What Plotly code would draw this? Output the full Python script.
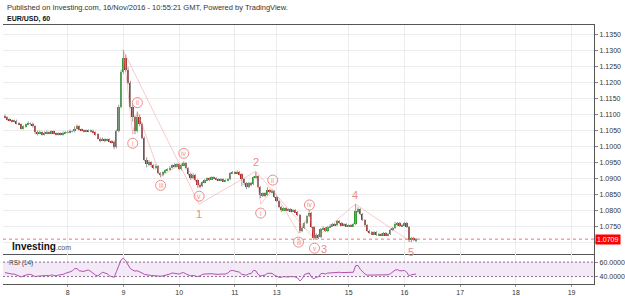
import plotly.graph_objects as go

# ---------------- data ----------------
day_ticks = [0, 24, 48, 72, 90, 121, 145, 169, 193, 217]
day_labels = ["8", "9", "10", "11", "13", "15", "16", "17", "18", "19"]

first_index = -27
first_open = 1.1097

close = [
    1.1091, 1.1084, 1.1081, 1.1078, 1.1081, 1.1072, 1.1069, 1.1056, 1.1063, 1.1069,
    1.1072, 1.1072, 1.1063, 1.1044, 1.1041, 1.1044, 1.1038, 1.1041, 1.1044, 1.1041,
    1.1047, 1.1041, 1.1038, 1.1041, 1.1038, 1.1041, 1.1044, 1.1044, 1.1047, 1.1047,
    1.1056, 1.1063, 1.1053, 1.1050, 1.1047, 1.1050, 1.1047, 1.1050, 1.1044, 1.1038,
    1.1025, 1.1019, 1.1022, 1.1019, 1.1022, 1.1016, 1.1013, 1.0997, 1.1047, 1.1125,
    1.1234, 1.1278, 1.1241, 1.1200, 1.1125, 1.1091, 1.1047, 1.1094, 1.1069, 1.1028,
    1.0959, 1.0944, 1.0950, 1.0941, 1.0934, 1.0938, 1.0916, 1.0909, 1.0919, 1.0925,
    1.0928, 1.0934, 1.0941, 1.0938, 1.0944, 1.0928, 1.0941, 1.0947, 1.0931, 1.0913,
    1.0900, 1.0909, 1.0894, 1.0878, 1.0875, 1.0888, 1.0894, 1.0900, 1.0897, 1.0903,
    1.0900, 1.0897, 1.0894, 1.0897, 1.0891, 1.0894, 1.0897, 1.0916, 1.0919, 1.0916,
    1.0919, 1.0913, 1.0897, 1.0884, 1.0872, 1.0884, 1.0881, 1.0903, 1.0906, 1.0872,
    1.0847, 1.0853, 1.0847, 1.0863, 1.0856, 1.0859, 1.0841, 1.0828, 1.0809, 1.0800,
    1.0806, 1.0800, 1.0803, 1.0797, 1.0800, 1.0794, 1.0784, 1.0734, 1.0744, 1.0759,
    1.0781, 1.0791, 1.0747, 1.0713, 1.0722, 1.0716, 1.0741, 1.0744, 1.0734, 1.0747,
    1.0750, 1.0756, 1.0753, 1.0766, 1.0759, 1.0753, 1.0756, 1.0750, 1.0753, 1.0750,
    1.0756, 1.0797, 1.0803, 1.0788, 1.0769, 1.0753, 1.0734, 1.0731, 1.0725, 1.0731,
    1.0722, 1.0725, 1.0722, 1.0728, 1.0722, 1.0725, 1.0738, 1.0744, 1.0756, 1.0759,
    1.0750, 1.0753, 1.0759, 1.0747, 1.0706, 1.0713, 1.0706, 1.0709,
]

high = [
    1.1100, 1.1094, 1.1088, 1.1084, 1.1084, 1.1084, 1.1075, 1.1072, 1.1066, 1.1072,
    1.1078, 1.1075, 1.1075, 1.1066, 1.1050, 1.1050, 1.1047, 1.1047, 1.1050, 1.1047,
    1.1050, 1.1050, 1.1044, 1.1044, 1.1044, 1.1047, 1.1047, 1.1050, 1.1053, 1.1050,
    1.1063, 1.1069, 1.1066, 1.1056, 1.1053, 1.1053, 1.1053, 1.1053, 1.1053, 1.1047,
    1.1041, 1.1028, 1.1028, 1.1025, 1.1025, 1.1025, 1.1019, 1.1019, 1.1053, 1.1131,
    1.1241, 1.1303, 1.1288, 1.1250, 1.1206, 1.1131, 1.1097, 1.1109, 1.1100, 1.1075,
    1.1031, 1.0966, 1.0956, 1.0953, 1.0944, 1.0944, 1.0941, 1.0919, 1.0922, 1.0928,
    1.0931, 1.0938, 1.0944, 1.0947, 1.0947, 1.0947, 1.0944, 1.0953, 1.0950, 1.0934,
    1.0916, 1.0916, 1.0913, 1.0897, 1.0884, 1.0891, 1.0897, 1.0903, 1.0903, 1.0906,
    1.0906, 1.0903, 1.0900, 1.0900, 1.0900, 1.0897, 1.0900, 1.0919, 1.0922, 1.0922,
    1.0925, 1.0922, 1.0916, 1.0900, 1.0888, 1.0888, 1.0888, 1.0906, 1.0919, 1.0909,
    1.0875, 1.0856, 1.0856, 1.0872, 1.0866, 1.0863, 1.0863, 1.0844, 1.0831, 1.0813,
    1.0809, 1.0809, 1.0806, 1.0806, 1.0803, 1.0803, 1.0797, 1.0788, 1.0750, 1.0763,
    1.0784, 1.0800, 1.0794, 1.0750, 1.0728, 1.0725, 1.0744, 1.0750, 1.0747, 1.0750,
    1.0756, 1.0759, 1.0759, 1.0769, 1.0769, 1.0763, 1.0759, 1.0759, 1.0756, 1.0756,
    1.0759, 1.0819, 1.0809, 1.0806, 1.0791, 1.0772, 1.0756, 1.0738, 1.0734, 1.0734,
    1.0734, 1.0728, 1.0728, 1.0731, 1.0731, 1.0728, 1.0741, 1.0747, 1.0763, 1.0763,
    1.0763, 1.0756, 1.0763, 1.0763, 1.0750, 1.0716, 1.0716, 1.0713,
]

low = [
    1.1088, 1.1081, 1.1078, 1.1075, 1.1075, 1.1069, 1.1066, 1.1053, 1.1053, 1.1059,
    1.1066, 1.1066, 1.1059, 1.1038, 1.1034, 1.1038, 1.1034, 1.1034, 1.1038, 1.1038,
    1.1038, 1.1038, 1.1034, 1.1034, 1.1034, 1.1034, 1.1038, 1.1041, 1.1041, 1.1044,
    1.1044, 1.1053, 1.1050, 1.1047, 1.1044, 1.1044, 1.1044, 1.1044, 1.1041, 1.1034,
    1.1022, 1.1013, 1.1016, 1.1013, 1.1016, 1.1013, 1.1009, 1.0991, 1.0994, 1.1044,
    1.1119, 1.1228, 1.1234, 1.1194, 1.1119, 1.1078, 1.1038, 1.1044, 1.1063, 1.1022,
    1.0953, 1.0934, 1.0938, 1.0934, 1.0928, 1.0928, 1.0913, 1.0903, 1.0906, 1.0916,
    1.0922, 1.0925, 1.0931, 1.0934, 1.0934, 1.0925, 1.0925, 1.0938, 1.0928, 1.0909,
    1.0894, 1.0897, 1.0891, 1.0869, 1.0869, 1.0872, 1.0884, 1.0891, 1.0891, 1.0894,
    1.0897, 1.0894, 1.0891, 1.0891, 1.0888, 1.0888, 1.0891, 1.0894, 1.0913, 1.0913,
    1.0913, 1.0909, 1.0875, 1.0878, 1.0866, 1.0869, 1.0875, 1.0878, 1.0900, 1.0869,
    1.0838, 1.0841, 1.0841, 1.0844, 1.0853, 1.0853, 1.0838, 1.0825, 1.0806, 1.0794,
    1.0797, 1.0797, 1.0797, 1.0794, 1.0794, 1.0791, 1.0781, 1.0728, 1.0731, 1.0741,
    1.0756, 1.0778, 1.0744, 1.0706, 1.0709, 1.0709, 1.0713, 1.0738, 1.0731, 1.0731,
    1.0744, 1.0747, 1.0750, 1.0750, 1.0756, 1.0750, 1.0750, 1.0747, 1.0747, 1.0747,
    1.0747, 1.0753, 1.0791, 1.0784, 1.0766, 1.0747, 1.0731, 1.0725, 1.0722, 1.0722,
    1.0719, 1.0719, 1.0719, 1.0719, 1.0719, 1.0719, 1.0722, 1.0734, 1.0741, 1.0750,
    1.0747, 1.0747, 1.0750, 1.0744, 1.0700, 1.0700, 1.0703, 1.0700,
]

rsi = [
    45.5, 44.5, 44.0, 43.5, 43.5, 42.0, 41.0, 39.5, 41.0, 42.5,
    43.0, 43.0, 41.5, 40.0, 40.5, 41.0, 40.5, 41.0, 41.5, 41.0,
    42.5, 41.5, 41.0, 42.0, 42.0, 43.0, 44.5, 45.0, 46.5, 48.0,
    51.0, 51.0, 48.0, 47.5, 47.0, 48.5, 49.0, 47.0, 44.0, 42.0,
    41.0, 43.0, 46.0, 45.0, 44.0, 41.0, 40.0, 39.0, 47.0, 56.0,
    63.0, 65.5, 62.0, 56.0, 51.0, 49.0, 47.5, 48.0, 47.0, 45.0,
    43.0, 42.0, 42.0, 41.5, 41.0, 41.0, 40.5, 40.5, 41.0, 41.5,
    42.5, 43.5, 45.0, 44.5, 45.0, 43.5, 45.0, 45.5, 43.5, 42.0,
    41.0, 41.5, 40.5, 40.0, 41.0, 43.0, 43.5, 44.0, 43.5, 44.0,
    43.5, 43.0, 43.0, 43.5, 43.0, 43.5, 45.0, 48.0, 48.5, 48.0,
    47.5, 46.0, 43.0, 42.0, 42.0, 44.0, 44.0, 48.5, 48.0, 43.0,
    41.0, 41.5, 42.0, 44.5, 44.0, 44.5, 42.0, 40.5, 39.0, 39.0,
    40.0, 39.5, 40.0, 39.5, 40.0, 39.5, 38.0, 34.0, 37.0, 43.0,
    44.0, 45.0, 39.0, 37.0, 39.0, 39.5, 44.0, 44.5, 43.5, 45.0,
    45.0, 45.5, 45.0, 46.5, 46.0, 45.5, 45.5, 45.0, 45.5, 45.0,
    46.0, 55.0, 55.5, 50.0, 46.0, 43.5, 42.0, 42.0, 41.5, 42.0,
    41.5, 42.0, 42.0, 42.5, 42.0, 42.5, 44.0, 46.0, 49.0, 49.5,
    48.0, 48.0, 48.5, 46.0, 41.0, 42.5, 43.0, 43.5,
]

last_price = 1.0709
rsi_bands = [40, 60]
price_ticks = [1.0700, 1.0750, 1.0800, 1.0850, 1.0900, 1.0950, 1.1000, 1.1050,
               1.1100, 1.1150, 1.1200, 1.1250, 1.1300, 1.1350]

# Elliott wave drawing points (bar index, price)
wave_main_x = [24, 56.6, 81, 106.3, 123.9, 147.9]
wave_main_y = [1.1300, 1.0819, 1.0922, 1.0709, 1.0819, 1.0700]
wave_main_labels = ["", "1", "2", "3", "4", "5"]

sub1_x = [24, 28, 30, 40, 50, 56.6]
sub1_y = [1.1300, 1.1038, 1.1109, 1.0906, 1.0950, 1.0872]
sub3_x = [81, 83.1, 88.3, 99.4, 104.1, 106.3]
sub3_y = [1.0922, 1.0819, 1.0866, 1.0728, 1.0788, 1.0709]
sub_labels = ["", "i", "ii", "iii", "iv", "v"]

# ---------------- build ----------------
n = len(close)
idx = [first_index + k for k in range(n)]
opens = [first_open] + close[:-1]

UP = "#2b9a2b"
DN = "#b02828"
WICK = "#9a9a9a"
WAVE = "#ef8a8a"
WAVE_LINE = "rgba(239,138,138,0.45)"
FONT = "Liberation Sans, Arial, sans-serif"

fig = go.Figure()

wx, wy = [], []
for i, h, l in zip(idx, high, low):
    wx += [i, i, None]
    wy += [l, h, None]
fig.add_trace(go.Scatter(x=wx, y=wy, mode="lines", line=dict(color=WICK, width=1),
                         hoverinfo="skip", showlegend=False, xaxis="x", yaxis="y"))

base = [min(o, c) for o, c in zip(opens, close)]
hgt = [max(abs(c - o), 0.00008) for o, c in zip(opens, close)]
cols = [UP if c > o else (DN if c < o else WICK) for o, c in zip(opens, close)]
fig.add_trace(go.Bar(x=idx, y=hgt, base=base, marker=dict(color=cols, line=dict(width=0)),
                     width=0.75, showlegend=False, xaxis="x", yaxis="y"))

# wave lines
for xs, ys in [(wave_main_x, wave_main_y), (sub1_x, sub1_y), (sub3_x, sub3_y)]:
    fig.add_trace(go.Scatter(x=xs, y=ys, mode="lines", line=dict(color=WAVE_LINE, width=1),
                             hoverinfo="skip", showlegend=False, xaxis="x", yaxis="y"))

# RSI
fig.add_trace(go.Scatter(x=idx, y=rsi, mode="lines", line=dict(color="#b04fb0", width=1),
                         showlegend=False, xaxis="x2", yaxis="y2"))

L, R = 3 / 625, 597 / 625
main_dom = [1 - 255 / 296, 1 - 25 / 296]
rsi_dom = [1 - 285 / 296, 1 - 255 / 296]
xr = [-27.86, 226.7]

axis_font = dict(family=FONT, size=7, color="#333333")
fig.update_layout(
    width=625, height=296,
    margin=dict(l=0, r=0, t=0, b=0),
    paper_bgcolor="white", plot_bgcolor="white",
    bargap=0, barmode="overlay",
    font=dict(family=FONT),
    xaxis=dict(domain=[L, R], range=xr, anchor="y", tickvals=day_ticks, ticktext=day_labels,
               showticklabels=False, showgrid=True, gridcolor="#ececec", gridwidth=1,
               showline=True, linecolor="#555555", linewidth=1, mirror=True, ticks="",
               zeroline=False, fixedrange=True),
    xaxis2=dict(domain=[L, R], range=xr, anchor="y2", matches="x", tickvals=day_ticks,
                ticktext=day_labels, showgrid=True, gridcolor="#ececec", showline=True,
                linecolor="#555555", linewidth=1, ticks="outside", ticklen=2, tickcolor="#999",
                tickfont=dict(family=FONT, size=7, color="#333"), zeroline=False),
    yaxis=dict(domain=main_dom, range=[1.0662, 1.1381], side="right", anchor="x",
               tickvals=price_ticks,
               ticktext=["" if abs(v - 1.07) < 1e-9 else "%.4f" % v for v in price_ticks],
               showgrid=True, gridcolor="#ececec",
               showline=True, linecolor="#555555", linewidth=1, ticks="outside", ticklen=3,
               tickcolor="#888", tickfont=axis_font, zeroline=False),
    yaxis2=dict(domain=rsi_dom, range=[29.7, 71.0], side="right", anchor="x2",
                tickvals=rsi_bands, ticktext=["%.4f" % v for v in rsi_bands], showgrid=False,
                showline=True, linecolor="#555555", linewidth=1, ticks="outside", ticklen=3,
                tickcolor="#888", tickfont=axis_font, zeroline=False),
)

shapes = []
# RSI band fill + dashed band lines
shapes.append(dict(type="rect", xref="paper", yref="y2", x0=L, x1=R, y0=rsi_bands[0],
                   y1=rsi_bands[1], fillcolor="rgba(170,90,190,0.13)", line=dict(width=0),
                   layer="below"))
for b in rsi_bands:
    shapes.append(dict(type="line", xref="paper", yref="y2", x0=L, x1=R, y0=b, y1=b,
                       line=dict(color="#8c6c8c", width=1, dash="2px,2px")))
# last price dotted line
shapes.append(dict(type="line", xref="paper", yref="y", x0=L, x1=R, y0=last_price,
                   y1=last_price, line=dict(color="#ff6a6a", width=1, dash="dot")))

annotations = []
# circled sub-wave labels
for xs, ys in [(sub1_x, sub1_y), (sub3_x, sub3_y)]:
    for k in range(1, len(xs)):
        d = 9 if k % 2 == 0 else -9
        shapes.append(dict(type="circle", xref="x", yref="y", xsizemode="pixel",
                           ysizemode="pixel", xanchor=xs[k], yanchor=ys[k],
                           x0=-5, x1=5, y0=d - 5, y1=d + 5,
                           line=dict(color=WAVE, width=1)))
        annotations.append(dict(x=xs[k], y=ys[k], xref="x", yref="y", text=sub_labels[k],
                                showarrow=False, yshift=d,
                                font=dict(family=FONT, size=6.5, color=WAVE)))
# main wave digits
for k in range(1, len(wave_main_x)):
    d = 9 if k % 2 == 0 else -10
    xs_ = 9 if k == 3 else 0
    annotations.append(dict(x=wave_main_x[k], y=wave_main_y[k], xref="x", yref="y",
                            text=wave_main_labels[k], showarrow=False, yshift=d, xshift=xs_,
                            font=dict(family=FONT, size=11, color=WAVE)))

# last price tag
annotations.append(dict(xref="paper", yref="y", x=598 / 625, y=last_price, xanchor="left",
                        yanchor="middle", text="1.0709", showarrow=False, bgcolor="#ff0000",
                        borderpad=1, font=dict(family=FONT, size=7, color="white")))
# headers
annotations.append(dict(xref="paper", yref="paper", x=5 / 625, y=1 - 7.5 / 296, xanchor="left",
                        yanchor="middle", showarrow=False,
                        text="Published on Investing.com, 16/Nov/2016 - 10:55:21 GMT, Powered by TradingView.",
                        font=dict(family=FONT, size=7.5, color="#333")))
annotations.append(dict(xref="paper", yref="paper", x=5 / 625, y=1 - 19.5 / 296, xanchor="left",
                        yanchor="middle", showarrow=False, text="<b>EUR/USD, 60</b>",
                        font=dict(family=FONT, size=7, color="#111")))
# logo
annotations.append(dict(xref="paper", yref="paper", x=10 / 625, y=1 - 247.5 / 296,
                        xanchor="left", yanchor="middle", showarrow=False,
                        text="<b>Investing</b><span style='font-size:7px;color:#555'>.com</span>",
                        font=dict(family=FONT, size=10, color="#111")))
# RSI label
annotations.append(dict(xref="paper", yref="paper", x=7 / 625, y=1 - 264 / 296,
                        xanchor="left", yanchor="middle", showarrow=False, text="RSI (14)",
                        font=dict(family=FONT, size=6.5, color="#444")))

fig.update_layout(shapes=shapes, annotations=annotations)
fig.write_html("out.html", config={"displayModeBar": False})
